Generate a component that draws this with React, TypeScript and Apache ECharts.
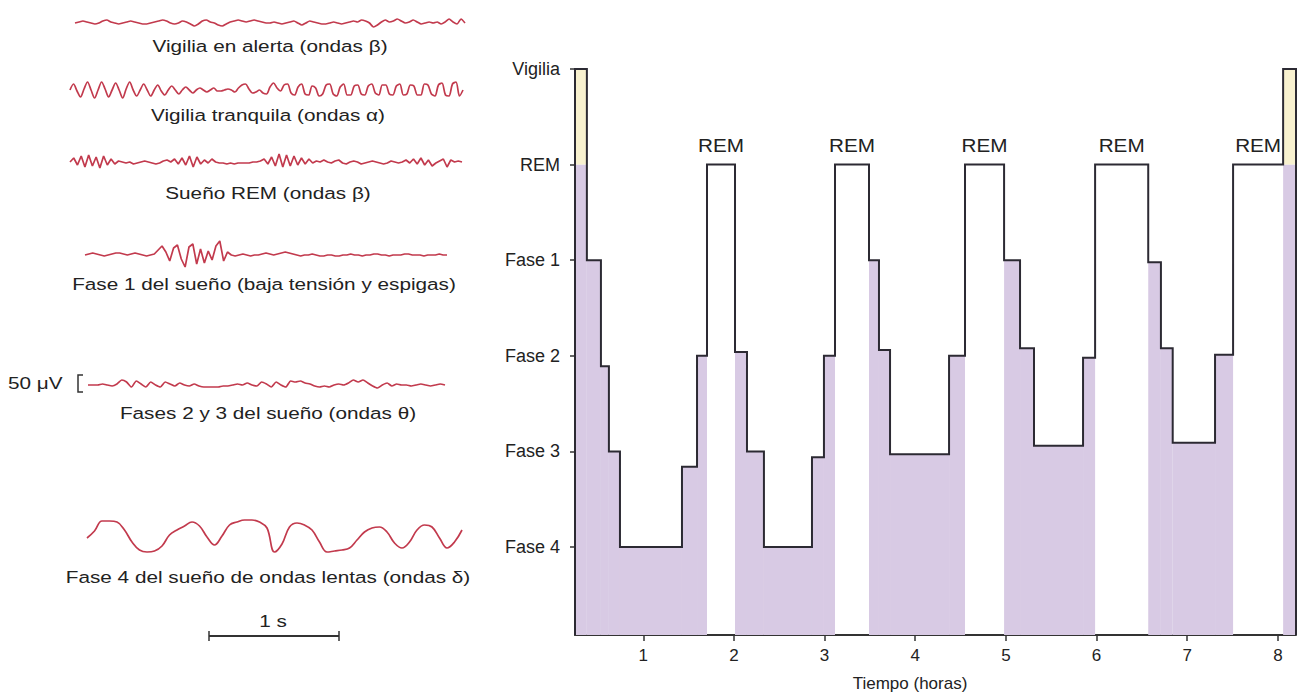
import React, { useEffect, useRef } from "react";
import * as echarts from "echarts";

// ---------- Hypnogram data ----------
const stageNames = ["Fase 4", "Fase 3", "Fase 2", "Fase 1", "REM", "Vigilia"];
const stageTicks = [1, 2, 3, 4, 5, 6];
const hourTicks = [1, 2, 3, 4, 5, 6, 7, 8];
// start time (hours) of each stage segment
const stageTimes = [
  0.247, 0.378, 0.533, 0.621, 0.743, 1.427, 1.593, 1.703, 2.012, 2.144,
  2.331, 2.861, 2.993, 3.115, 3.49, 3.6, 3.722, 4.373, 4.549, 4.98,
  5.156, 5.31, 5.851, 5.984, 6.57, 6.71, 6.84, 7.307, 7.506, 8.058,
];
// level of each segment (1 = Fase 4 ... 5 = REM, 6 = Vigilia)
const stageLevels = [
  6, 4, 2.89, 2, 1, 1.84, 3, 5, 3.04, 2,
  1, 1.94, 3, 5, 4, 3.06, 1.97, 3, 5, 4,
  3.08, 2.06, 2.98, 5, 3.98, 3.08, 2.09, 3.01, 5, 6,
];
const stageEnd = 8.2;

// ---------- EEG traces (deflection, px-like units, up = positive) ----------
const traceAlert = [
  0, 1, 2, 1, 0, -1, 0, 2, 3, 1, 0, -1, 0, 1, 2, 1, 0, -1, -1, 0, 1, 2, 3, 2, 0, -1, 0, 2, 1, -1,
  -3, -1, 2, 3, 1, 0, -2, -3, -1, 1, 2, 3, 2, 1, 2, 3, 2, 1, 0, 0, 1, 0, -1, 0, 1, 2, 0, -2, 0, 2,
  1, 0, -1, -1, 0, 1, 0, -1, 0, 1, 2, 1, 3, 2, 0, -4, -2, 1, 3, 1, 2, 4, 2, 0, 1, 3, 1, -1, 0, 1,
  0, 1, -1, 1, 4, 1, -1, 4, 0,
];
const traceCalm = [
  0, 6, -1, -7, 1, 8, 0, -8, 0, 8, 1, -7, 0, 7, 0, -8, 1, 8, 0, -6, 0, 6, 0, -6, 0, 5, -1, -5, 0, 4, 0, -4,
  0, 3, 0, -3, 0, 2, 0, -2, 0, 2, -1, -1, 0, 1, 0, -2, 2, 5, 6, 1, -3, -2, 0, -3,
  -4, 3, 7, 2, -1, 5, 6, -3, -5, 3, 6, -4, -5, 4, 2, -6, -4, 5, 6, -4, -6, 3, 6, -5, -5, 4, 5, -4, -5, 4, 6, -3,
  -5, 5, 5, -4, -5, 4, 6, -5, -4, 5, 4, -5, -5, 6, 5, -4, -6, 5, 7, -5, -6, 6, 8, -6, 0,
];
const traceRem = [
  0, 4, -3, 6, -5, 7, -4, 5, -6, 6, -3, 3, -2, 1, 0, -1, 0, -2, -1, 0, 1, 0, -1, -2, -1, 1, 2, 0, 3, -2,
  4, -3, 6, -5, 5, -2, 2, -1, 3, 0, -1, -1, -2, -1, -2, -1, -1, -1, -1, 0, 0, 1, 3, -2, 5, -4, 8, -5, 7, -4,
  6, -3, 4, -2, 3, -1, 1, 0, 2, 0, -1, 1, 2, -1, -2, 0, 1, 0, -2, -1, 0, 1, 0, -1, -2, -1, 1, 0, -1, 0,
  2, -1, 3, -2, 4, -3, 2, -4, -1, 1, 3, -5, 2, 0, 1, 0,
];
const traceStage1 = [
  0, 1, 2, 1, 0, -1, 0, 1, 2, 2, 1, 0, 1, 2, 1, 0, -1, 0, 1,
  5, 9, 3, -6, 7, 10, -4, -12, 8, 11, -9, 6, -8, 4, -5, 9, 14, -6, 3,
  0, -1, 0, 1, 0, -1, 0, 0, 1, 2, 1, 0, 1, 2, 3, 2, 1, 0, -1, 0, 0, 1, 0, -1, -1, 0, 0, -1, -1, 0, 0, 1,
  0, 0, -1, 0, 0, 1, 1, 0, 0, -1, 0, 0, 0, 1, 1, 0, 0, 0, -1, 0, 0, 0, 1, 0, 0,
];
const traceStage23 = [
  0, 0, 0, 1, 0, -1, 1, 5, 3, -2, 4, 1, -2, 3, 0, -2, 3, 1, -1, 2, 0, -1, 1, -1, -2, -2, -2, -2, -1, -1,
  0, 1, 0, 2, 0, -1, 3, 1, -2, 3, 0, -2, 4, 3, 4, 2, 1, -1, -2, -1, -2, 0, 1, 0, 2, 5, 3, 5, 2, -1,
  -3, 0, 2, -1, 1, 0, 0, -1, 0, 1, 0, -1, 0, 1, 0,
];
const traceStage4 = [
  -2, 5, 15, 15, 14, 6, -6, -14, -16, -15, -10, 1, 6, 10, 14, 10, -1, -9, 0, 11,
  14, 16, 16, 14, 8, -16, -8, 9, 13, 11, 6, -6, -16, -15, -14, -12, -4, 4, 8, 9,
  4, -7, -12, -6, 6, 11, 9, -2, -12, -6, 6,
];

const FONT = "'Liberation Sans', Arial, Helvetica, sans-serif";
const PURPLE = "#d8cae4";
const YELLOW = "#f8f1cf";
const LINE = "#2c2a33";
const RED = "#c23a4d";
const TEXT = "#222222";
const Y_MIN = 0.08;
const Y_MAX = 6;

export default function App() {
  const ref = useRef<HTMLDivElement>(null);

  useEffect(() => {
    if (!ref.current) return;
    const chart = echarts.init(ref.current, undefined, { renderer: "svg" });

    const segs = stageTimes.map((t, i) => [
      t,
      i + 1 < stageTimes.length ? stageTimes[i + 1] : stageEnd,
      stageLevels[i],
    ]);
    const stepPts: number[][] = [[stageTimes[0], Y_MIN]];
    segs.forEach((s) => {
      stepPts.push([s[0], s[2]]);
      stepPts.push([s[1], s[2]]);
    });
    stepPts.push([stageEnd, Y_MIN]);

    const traces = [
      { data: traceAlert, left: 75, width: 390, mid: 23, half: 12, smooth: 0.2 },
      { data: traceCalm, left: 70, width: 393, mid: 90, half: 12, smooth: 0.3 },
      { data: traceRem, left: 70, width: 392, mid: 162, half: 12, smooth: false },
      { data: traceStage1, left: 85, width: 362, mid: 255, half: 16, smooth: false },
      { data: traceStage23, left: 88, width: 357, mid: 385, half: 10, smooth: 0.2 },
      { data: traceStage4, left: 87, width: 375, mid: 536, half: 20, smooth: 0.4 },
    ];

    const grids: any[] = [{ left: 575, top: 69, width: 721, height: 566 }];
    const xAxes: any[] = [
      {
        type: "value",
        gridIndex: 0,
        min: stageTimes[0],
        max: stageEnd,
        splitLine: { show: false },
        axisLine: { show: true, lineStyle: { color: "#333", width: 2 } },
        axisTick: { show: true, customValues: hourTicks, length: 6, lineStyle: { color: "#333", width: 1.5 } },
        axisLabel: { customValues: hourTicks, fontSize: 17, color: TEXT, fontFamily: FONT, margin: 12 },
      },
    ];
    const yAxes: any[] = [
      {
        type: "value",
        gridIndex: 0,
        min: Y_MIN,
        max: Y_MAX,
        splitLine: { show: false },
        axisLine: { show: true, lineStyle: { color: "#333", width: 2 } },
        axisTick: { show: true, customValues: stageTicks, length: 5, lineStyle: { color: "#333", width: 1.5 } },
        axisLabel: {
          customValues: stageTicks,
          formatter: (v: number) => stageNames[Math.round(v) - 1] ?? "",
          fontSize: 18,
          color: TEXT,
          fontFamily: FONT,
          margin: 15,
        },
      },
    ];
    const series: any[] = [
      {
        type: "custom",
        xAxisIndex: 0,
        yAxisIndex: 0,
        data: segs,
        encode: { x: [0, 1], y: 2 },
        z: 1,
        renderItem: (params: any, api: any) => {
          const x0 = api.value(0);
          const x1 = api.value(1);
          const lv = api.value(2);
          const b0 = api.coord([x0, Y_MIN]);
          const b1 = api.coord([x1, Y_MIN]);
          const w = b1[0] - b0[0];
          if (lv === 5) {
            const c = api.coord([(x0 + x1) / 2, 5]);
            return {
              type: "text",
              x: c[0],
              y: c[1] - 10,
              scaleX: 1.15,
              style: {
                text: "REM",
                textAlign: "center",
                textVerticalAlign: "bottom",
                fontSize: 18,
                fontFamily: FONT,
                fill: TEXT,
              },
            };
          }
          const cap = Math.min(lv, 5);
          const t = api.coord([x0, cap]);
          const children: any[] = [
            { type: "rect", shape: { x: b0[0], y: t[1], width: w, height: b0[1] - t[1] }, style: { fill: PURPLE } },
          ];
          if (lv > 5) {
            const t6 = api.coord([x0, lv]);
            children.push({
              type: "rect",
              shape: { x: b0[0], y: t6[1], width: w, height: t[1] - t6[1] },
              style: { fill: YELLOW },
            });
          }
          return { type: "group", children };
        },
      },
      {
        type: "line",
        xAxisIndex: 0,
        yAxisIndex: 0,
        data: stepPts,
        symbol: "none",
        z: 3,
        lineStyle: { color: LINE, width: 2, join: "miter" },
      },
    ];

    traces.forEach((tr, i) => {
      const gi = i + 1;
      grids.push({ left: tr.left, top: tr.mid - tr.half, width: tr.width, height: tr.half * 2 });
      xAxes.push({ type: "value", gridIndex: gi, min: 0, max: tr.data.length - 1, show: false });
      yAxes.push({ type: "value", gridIndex: gi, min: -tr.half, max: tr.half, show: false });
      series.push({
        type: "line",
        xAxisIndex: gi,
        yAxisIndex: gi,
        data: tr.data.map((v, j) => [j, v]),
        symbol: "none",
        smooth: tr.smooth,
        lineStyle: { color: RED, width: 1.7 },
      });
    });

    const txt = (text: string, x: number, y: number, extra: any = {}, sx = 1.22) => ({
      type: "text",
      x,
      y,
      scaleX: sx,
      style: {
        text,
        fontSize: 17,
        fontFamily: FONT,
        fill: TEXT,
        textAlign: "center",
        textVerticalAlign: "middle",
        ...extra,
      },
    });

    const graphic: any[] = [
      txt("Vigilia en alerta (ondas β)", 270, 46),
      txt("Vigilia tranquila (ondas α)", 268, 115),
      txt("Sueño REM (ondas β)", 268, 193),
      txt("Fase 1 del sueño (baja tensión y espigas)", 264, 284),
      txt("Fases 2 y 3 del sueño (ondas θ)", 268, 413),
      txt("Fase 4 del sueño de ondas lentas (ondas δ)", 268, 577),
      txt("1 s", 273, 621),
      txt("50 μV", 8, 383, { textAlign: "left" }),
      txt("Tiempo (horas)", 910, 683, {}, 1),
      {
        type: "polyline",
        shape: { points: [[83, 375], [78, 375], [78, 392], [83, 392]] },
        style: { stroke: "#333", lineWidth: 1.5, fill: null },
      },
      { type: "line", shape: { x1: 209, y1: 636, x2: 339, y2: 636 }, style: { stroke: "#333", lineWidth: 2 } },
      { type: "line", shape: { x1: 209, y1: 631, x2: 209, y2: 641 }, style: { stroke: "#333", lineWidth: 1.5 } },
      { type: "line", shape: { x1: 339, y1: 631, x2: 339, y2: 641 }, style: { stroke: "#333", lineWidth: 1.5 } },
    ];

    chart.setOption({
      animation: false,
      backgroundColor: "#ffffff",
      grid: grids,
      xAxis: xAxes,
      yAxis: yAxes,
      series,
      graphic,
    });

    return () => chart.dispose();
  }, []);

  return (
    <div
      ref={ref}
      style={{ position: "fixed", left: 0, top: 0, width: 1297, height: 693, background: "#fff" }}
    />
  );
}
